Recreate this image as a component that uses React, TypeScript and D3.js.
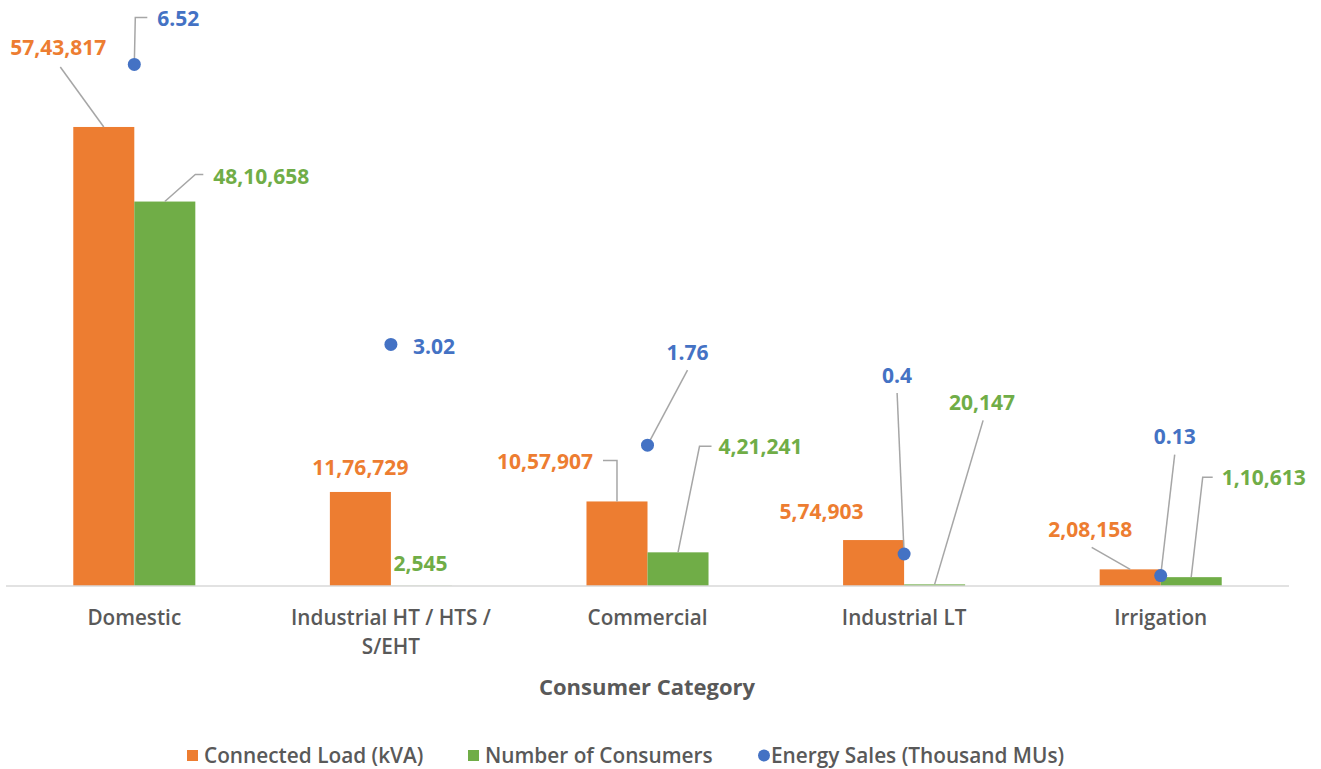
import React from "react";
import * as d3 from "d3";

const categories = ["Domestic", "Industrial HT / HTS / S/EHT", "Commercial", "Industrial LT", "Irrigation"];
const categoryLines = [["Domestic"], ["Industrial HT / HTS /", "S/EHT"], ["Commercial"], ["Industrial LT"], ["Irrigation"]];
const connectedLoad = [5743817, 1176729, 1057907, 574903, 208158];
const consumers = [4810658, 2545, 421241, 20147, 110613];
const energySales = [6.52, 3.02, 1.76, 0.4, 0.13];
const seriesNames = ["Connected Load (kVA)", "Number of Consumers", "Energy Sales (Thousand MUs)"];

// label placement offsets relative to each mark anchor (layout only)
const loadLabelPos = [
  { dx: -45.5, dy: -80, leader: [[-43.5, -60]] },
  { dx: 0, dy: -25, leader: [] },
  { dx: -72, dy: -40, leader: [[0, -41], [-14, -41]] },
  { dx: -52, dy: -29, leader: [] },
  { dx: -40, dy: -40, leader: [[-38.5, -22]] },
];
const consLabelPos = [
  { dx: 96.5, dy: -26, leader: [[30.5, -27], [38.5, -27]] },
  { dx: -1, dy: -23, leader: [] },
  { dx: 82.5, dy: -106, leader: [[21.5, -106], [33.5, -106]] },
  { dx: 47.5, dy: -182, leader: [[48.5, -164]] },
  { dx: 72.5, dy: -100, leader: [[11.5, -100], [21.5, -100]] },
];
const salesLabelPos = [
  { dx: 44, dy: -46, leader: [[1, -47], [13, -47]] },
  { dx: 43, dy: 2, leader: [] },
  { dx: 40, dy: -93, leader: [[40, -75]] },
  { dx: -7, dy: -179, leader: [[-7, -161]] },
  { dx: 14, dy: -140, leader: [[14, -121]] },
];

const ORANGE = "#ED7D31";
const GREEN = "#70AD47";
const BLUE = "#4472C4";
const GRAY = "#595959";
const LEADER = "#A6A6A6";
const FONT = "'Open Sans', sans-serif";

const fmtIN = (v: number) => {
  const s = String(Math.round(v));
  if (s.length <= 3) return s;
  const last3 = s.slice(-3);
  let rest = s.slice(0, -3);
  const parts: string[] = [];
  while (rest.length > 2) {
    parts.unshift(rest.slice(-2));
    rest = rest.slice(0, -2);
  }
  if (rest) parts.unshift(rest);
  return parts.join(",") + "," + last3;
};

export default function App() {
  const W = 1321, H = 769;
  const baseY = 586;
  const x = d3.scaleBand<string>().domain(categories).range([6, 1289]).padding(0);
  const y = d3.scaleLinear().domain([0, 6000000]).range([baseY, 106.5]);
  const y2 = d3.scaleLinear().domain([0, 7]).range([baseY, 26]);
  const bw = x.bandwidth() * 0.2378;

  const leaderPath = (ax: number, ay: number, pts: number[][]) =>
    d3.line()([[ax, ay], ...pts.map(p => [ax + p[0], ay + p[1]] as [number, number])]) || "";

  const labelStyle = { fontFamily: FONT, fontWeight: 700, fontSize: 21 } as const;

  return (
    <svg width={W} height={H} style={{ position: "absolute", left: 0, top: 0, background: "#fff" }}>
      <rect width={W} height={H} fill="#fff" />
      {/* bars */}
      {categories.map((c, i) => {
        const cx = (x(c) as number) + x.bandwidth() / 2;
        return (
          <g key={"b" + c}>
            <rect x={cx - bw} y={y(connectedLoad[i])} width={bw} height={baseY - y(connectedLoad[i])} fill={ORANGE} />
            <rect x={cx} y={y(consumers[i])} width={bw} height={baseY - y(consumers[i])} fill={GREEN} />
          </g>
        );
      })}
      {/* axis line */}
      <line x1={6} x2={1289} y1={baseY} y2={baseY} stroke="#D9D9D9" strokeWidth={1.5} />
      {/* leaders */}
      {categories.map((c, i) => {
        const cx = (x(c) as number) + x.bandwidth() / 2;
        const lp = loadLabelPos[i], cp = consLabelPos[i], sp = salesLabelPos[i];
        return (
          <g key={"l" + c} fill="none" stroke={LEADER} strokeWidth={1.5}>
            {lp.leader.length > 0 && <path d={leaderPath(cx - bw / 2, y(connectedLoad[i]), lp.leader)} />}
            {cp.leader.length > 0 && <path d={leaderPath(cx + bw / 2, y(consumers[i]), cp.leader)} />}
            {sp.leader.length > 0 && <path d={leaderPath(cx, y2(energySales[i]), sp.leader)} />}
          </g>
        );
      })}
      {/* dots */}
      {categories.map((c, i) => {
        const cx = (x(c) as number) + x.bandwidth() / 2;
        return <circle key={"d" + c} cx={cx} cy={y2(energySales[i])} r={6.5} fill={BLUE} />;
      })}
      {/* data labels */}
      {categories.map((c, i) => {
        const cx = (x(c) as number) + x.bandwidth() / 2;
        const lp = loadLabelPos[i], cp = consLabelPos[i], sp = salesLabelPos[i];
        return (
          <g key={"t" + c} textAnchor="middle" dominantBaseline="central" style={labelStyle}>
            <text x={cx - bw / 2 + lp.dx} y={y(connectedLoad[i]) + lp.dy} fill={ORANGE}>{fmtIN(connectedLoad[i])}</text>
            <text x={cx + bw / 2 + cp.dx} y={y(consumers[i]) + cp.dy} fill={GREEN}>{fmtIN(consumers[i])}</text>
            <text x={cx + sp.dx} y={y2(energySales[i]) + sp.dy} fill={BLUE}>{String(energySales[i])}</text>
          </g>
        );
      })}
      {/* category labels */}
      {categories.map((c, i) => {
        const cx = (x(c) as number) + x.bandwidth() / 2;
        return (
          <text key={"c" + c} x={cx} y={617} textAnchor="middle" dominantBaseline="central"
            style={{ fontFamily: FONT, fontWeight: 600, fontSize: 20.7 }} fill={GRAY}>
            {categoryLines[i].map((ln, k) => (
              <tspan key={k} x={cx} dy={k === 0 ? 0 : 29}>{ln}</tspan>
            ))}
          </text>
        );
      })}
      {/* axis title */}
      <text x={647} y={686} textAnchor="middle" dominantBaseline="central"
        style={{ fontFamily: FONT, fontWeight: 700, fontSize: 22 }} fill={GRAY}>Consumer Category</text>
      {/* legend */}
      <g style={{ fontFamily: FONT, fontWeight: 600, fontSize: 20.8 }} fill={GRAY} dominantBaseline="central">
        <rect x={187} y={750} width={11} height={11} fill={ORANGE} />
        <text x={204} y={755}>{seriesNames[0]}</text>
        <rect x={468} y={750} width={11} height={11} fill={GREEN} />
        <text x={485} y={755}>{seriesNames[1]}</text>
        <circle cx={764} cy={755.5} r={6} fill={BLUE} />
        <text x={771} y={755}>{seriesNames[2]}</text>
      </g>
    </svg>
  );
}
